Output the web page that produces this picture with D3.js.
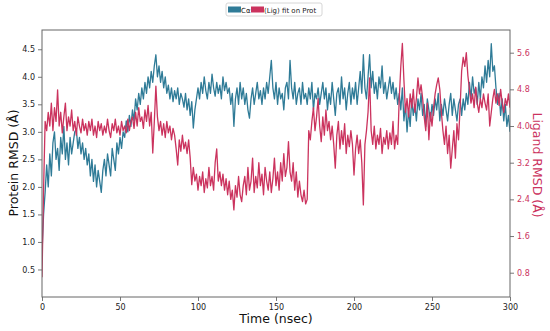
<!DOCTYPE html>
<html><head><meta charset="utf-8">
<script src="https://cdn.jsdelivr.net/npm/d3@7"></script>
<style>body{margin:0;background:#fff}svg{display:block}</style>
</head><body>
<svg id="c" width="550" height="331"></svg>
<script>
// time in ns, 1 ns step
const times = d3.range(0, 301, 1);
// Protein RMSD (Å), left axis
const proteinRMSD = [
0.8,1.5,1.9,2.4,2.0,2.6,2.2,2.8,3.0,2.5,
2.7,2.3,2.9,2.6,3.1,2.5,2.8,2.4,2.9,2.6,
2.8,3.0,3.05,2.7,2.9,2.6,2.8,2.5,2.7,2.4,
2.6,2.2,2.5,2.1,2.4,2.0,2.3,2.1,1.9,2.3,
2.5,2.2,2.6,2.4,2.2,2.7,2.5,2.3,2.8,2.6,
2.9,2.7,3.0,2.9,3.2,3.0,3.3,3.1,3.4,3.2,
3.6,3.4,3.7,3.5,3.8,3.6,3.9,3.7,4.0,3.8,
4.1,3.9,4.2,4.4,4.0,4.2,3.9,4.1,3.8,4.0,
3.7,3.85,3.6,3.8,3.55,3.75,3.6,3.8,3.5,3.7,
3.6,3.45,3.7,3.4,3.6,3.3,3.55,3.07,3.4,3.6,
3.8,3.6,3.9,3.7,4.0,3.75,3.6,3.9,3.7,4.05,
3.8,3.65,3.9,3.7,3.85,3.6,4.0,3.75,3.9,3.7,
3.8,3.5,3.7,3.1,3.6,3.8,3.5,3.9,3.6,3.8,
3.5,3.7,3.4,3.25,3.6,3.8,3.5,3.7,3.9,3.6,
3.75,3.5,3.8,3.6,3.9,3.7,4.0,4.3,3.8,3.6,
3.9,3.5,3.8,3.6,3.7,3.4,3.8,3.9,3.6,4.3,
3.8,3.6,3.9,3.5,3.7,3.8,3.5,3.9,3.6,3.7,
3.5,3.8,3.6,3.9,3.4,3.7,3.6,3.8,3.5,3.7,
3.9,3.6,3.8,3.4,3.7,3.5,3.9,3.6,3.3,3.7,
3.8,3.5,4.0,3.6,3.8,3.4,3.7,3.9,3.5,3.8,
3.6,3.9,3.5,3.8,4.1,3.7,4.4,3.8,3.6,4.0,
4.4,3.8,4.1,3.7,3.9,3.6,4.0,3.8,4.2,3.7,
3.9,3.6,3.8,4.0,3.7,3.9,3.6,3.8,3.5,3.7,
3.4,3.8,3.2,3.5,3.0,3.4,3.1,3.6,3.3,3.5,
3.2,3.6,3.4,3.7,3.3,3.5,3.1,3.6,3.4,3.2,
3.5,3.3,3.6,3.4,3.7,3.2,3.5,3.3,3.6,3.4,
3.2,3.5,3.7,3.3,3.6,3.4,3.2,3.5,3.6,3.3,
3.6,3.4,3.7,3.5,3.9,3.6,4.0,3.7,3.8,3.5,
3.9,3.6,4.0,3.8,4.2,3.9,4.3,4.0,4.6,4.1,
4.2,3.8,3.5,3.7,3.3,3.6,3.2,3.5,3.1,3.3,
3.0];
// Ligand RMSD (Å), right axis
const ligandRMSD = [
0.7,2.6,4.1,3.9,4.3,4.0,4.5,3.9,4.4,4.1,
4.79,4.0,4.3,3.85,4.2,4.5,3.9,4.2,4.0,4.35,
3.9,4.1,3.8,4.2,4.0,3.85,4.15,3.9,4.05,3.8,
4.1,3.9,4.15,3.8,4.0,3.75,4.1,3.9,4.05,3.8,
4.0,3.85,4.15,3.9,3.75,4.05,3.9,4.15,3.85,4.0,
3.8,4.1,3.9,4.0,3.85,4.15,3.9,4.1,4.2,3.95,
4.3,4.0,4.4,4.1,4.2,3.95,4.35,4.1,4.45,4.0,
4.3,3.41,4.1,4.87,4.2,3.9,4.1,3.8,4.05,3.75,
4.1,3.85,4.0,3.7,3.95,3.8,3.5,3.15,3.7,3.45,
3.8,3.5,3.65,3.4,3.7,3.3,2.72,3.1,2.8,2.95,
2.6,2.9,2.7,3.0,2.55,2.85,2.65,3.1,2.7,2.9,
2.6,3.2,3.5,2.8,3.0,2.7,2.95,2.6,2.85,2.5,
2.8,2.4,2.6,2.17,2.7,2.45,2.9,2.5,2.35,2.7,
2.9,2.5,3.1,2.6,2.8,3.3,2.55,2.9,2.65,3.2,
2.7,2.95,2.5,3.1,2.8,2.6,3.0,2.55,2.85,3.3,
2.7,3.0,2.6,3.2,2.8,3.4,2.9,3.1,3.66,3.0,
2.8,3.2,2.6,3.0,2.45,2.8,2.5,2.35,2.6,2.3,
2.4,3.9,3.7,4.1,4.4,3.9,4.2,4.6,4.0,3.66,
4.2,3.8,4.35,3.9,4.1,3.7,4.0,3.6,3.08,3.8,
4.1,3.5,3.9,3.6,4.05,3.4,3.8,3.55,3.9,3.6,
2.93,3.5,3.8,3.4,3.7,3.2,2.28,3.6,3.9,4.3,
5.05,3.9,3.6,4.0,3.5,3.8,3.6,3.95,3.4,3.75,
3.6,3.9,3.5,3.85,3.6,4.1,3.5,3.8,3.6,4.6,
5.3,5.8,5.0,4.3,4.6,4.2,4.7,4.4,4.8,4.3,
4.6,5.05,4.7,4.9,4.6,4.2,3.9,4.5,3.7,4.3,
4.0,4.4,4.7,4.9,5.05,4.8,4.3,3.9,3.6,4.0,
3.4,3.8,3.08,3.5,3.9,3.3,4.05,3.7,4.4,5.2,
5.5,5.3,5.6,5.1,4.8,4.5,4.7,4.4,4.85,4.5,
4.3,4.6,4.4,4.7,4.5,4.35,4.7,4.0,4.3,4.6,
4.8,4.5,4.7,4.45,4.8,4.5,4.3,4.6,4.45,4.7,
4.4];
const xTicks = [0,50,100,150,200,250,300];
const leftTicks = [0.5,1.0,1.5,2.0,2.5,3.0,3.5,4.0,4.5];
const rightTicks = [0.8,1.6,2.4,3.2,4.0,4.8,5.6];

const blue = "#2f7b97", red = "#cb335e";
const L = 42, R = 510, T = 30, B = 297;
const svg = d3.select("#c");
const font = "DejaVu Sans, sans-serif";

const x = d3.scaleLinear().domain([0,300]).range([L,R]);
const yL = d3.scaleLinear().domain([0,4.85]).range([B,T]);
const yR = d3.scaleLinear().domain([0.27,6.095]).range([B,T]);

const clip = svg.append("clipPath").attr("id","pc").append("rect")
  .attr("x",L).attr("y",T).attr("width",R-L).attr("height",B-T);

const g = svg.append("g").attr("clip-path","url(#pc)");
g.append("path").datum(proteinRMSD)
  .attr("fill","none").attr("stroke",blue).attr("stroke-width",1.3).attr("stroke-linejoin","round")
  .attr("d", d3.line().x((d,i)=>x(times[i])).y(d=>yL(d)));
g.append("path").datum(ligandRMSD)
  .attr("fill","none").attr("stroke",red).attr("stroke-width",1.3).attr("stroke-linejoin","round")
  .attr("d", d3.line().x((d,i)=>x(times[i])).y(d=>yR(d)));

// axes
function styleAxis(sel, color){
  sel.select(".domain").remove();
  sel.selectAll(".tick line").attr("stroke","#555").attr("stroke-width",0.8);
  sel.selectAll(".tick text").attr("font-family",font).attr("font-size",8).attr("fill",color);
}
const fmt1 = d3.format(".1f");
svg.append("g").attr("transform",`translate(0,${B})`)
  .call(d3.axisBottom(x).tickValues(xTicks).tickSize(4).tickPadding(3).tickFormat(d3.format("d")))
  .call(s=>styleAxis(s,"#222"));
svg.append("g").attr("transform",`translate(${L},0)`)
  .call(d3.axisLeft(yL).tickValues(leftTicks).tickSize(4).tickPadding(3).tickFormat(fmt1))
  .call(s=>styleAxis(s,"#222"));
svg.append("g").attr("transform",`translate(${R},0)`)
  .call(d3.axisRight(yR).tickValues(rightTicks).tickSize(4).tickPadding(3).tickFormat(fmt1))
  .call(s=>{styleAxis(s,red);});

// frame
svg.append("rect").attr("x",L).attr("y",T).attr("width",R-L).attr("height",B-T)
  .attr("fill","none").attr("stroke","#666").attr("stroke-width",1);

// axis titles
svg.append("text").attr("x",(L+R)/2).attr("y",323).attr("text-anchor","middle")
  .attr("font-family",font).attr("font-size",12.5).attr("fill","#111").text("Time (nsec)");
svg.append("text").attr("transform","translate(18,163) rotate(-90)").attr("text-anchor","middle")
  .attr("font-family",font).attr("font-size",12.5).attr("fill","#111").text("Protein RMSD (Å)");
svg.append("text").attr("transform","translate(533,165) rotate(90)").attr("text-anchor","middle")
  .attr("font-family",font).attr("font-size",12.5).attr("fill",red).text("Ligand RMSD (Å)");

// legend
const lg = svg.append("g");
lg.append("rect").attr("x",226).attr("y",3).attr("width",96).attr("height",13).attr("rx",2)
  .attr("fill","#fff").attr("stroke","#ccc").attr("stroke-width",0.8);
lg.append("rect").attr("x",228).attr("y",6.5).attr("width",13).attr("height",6).attr("fill",blue);
lg.append("text").attr("x",241).attr("y",12.8).attr("font-family",font).attr("font-size",7).attr("fill","#222").text("Cα");
lg.append("rect").attr("x",251).attr("y",6.5).attr("width",13).attr("height",6).attr("fill",red);
lg.append("text").attr("x",264).attr("y",12.8).attr("font-family",font).attr("font-size",7).attr("fill","#222").text("(Lig) fit on Prot");
</script>
</body></html>
